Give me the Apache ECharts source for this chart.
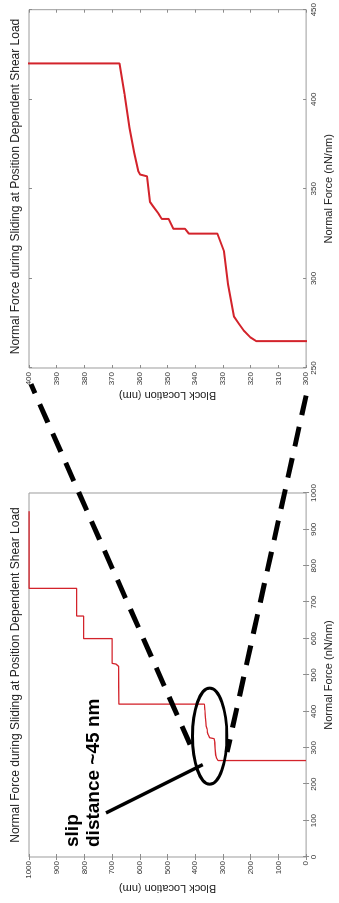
<!DOCTYPE html>
<html>
<head>
<meta charset="utf-8">
<script src="https://cdn.jsdelivr.net/npm/echarts@6/dist/echarts.min.js"></script>
<style>
  html, body { margin: 0; padding: 0; background: #fff; overflow: hidden; width: 339px; height: 903px; }
  /* The figure is laid out landscape and turned a quarter turn for the portrait page */
  #chart { position: absolute; left: 0; top: 0; width: 903px; height: 339px;
           transform-origin: 0 0; transform: translate(0, 903px) rotate(-90deg); }
</style>
</head>
<body>
<div id="chart"></div>
<script>
// Block position along the slide (nm) and the normal force at that position (nN/nm), in order of travel
const blockLocation = [
  1000, 1000, 828, 828, 803, 803, 700, 700, 686, 677, 676,
  367.3, 365.5, 363.7, 362, 360.6, 359.9, 357.4, 357, 356.3, 355.3,
  353.2, 352.1, 349.6, 347.9, 343.7, 342.3, 332, 329.6, 328.2, 326,
  324.3, 322.5, 320.1, 318, 0
];
const normalForce = [
  950, 738, 738, 662, 662, 600, 600, 532, 530, 524, 420,
  420, 403, 384, 370, 360, 358, 357, 351, 342.6, 340.4,
  336, 333.2, 333.2, 327.7, 327.7, 325, 325, 315, 296.8, 278.6,
  274.8, 270.9, 267.1, 265, 265
];

// Axis ranges: [min, max, tick step]
const fullForceRange = [0, 1000, 100];
const fullLocationRange = [0, 1000, 100];
const zoomForceRange = [250, 450, 50];
const zoomLocationRange = [300, 400, 10];

const titleText = 'Normal Force during Sliding at Position Dependent Shear Load';
const forceName = 'Normal Force (nN/nm)';
const locationName = 'Block Location (nm)';
const noteText = 'slip\ndistance ~45 nm';

const FONT = '"Liberation Sans", Arial, Helvetica, sans-serif';
const RED = '#d3232b';
const FRAME = '#9c9c9c';

const pairs = normalForce.map((f, i) => [f, blockLocation[i]]);

function axis(gridIndex, position, range, labelled, name, nameGap) {
  return {
    type: 'value', gridIndex, position,
    min: range[0], max: range[1], interval: range[2],
    axisLine: { show: false },
    splitLine: { show: false },
    axisTick: { show: true, inside: true, length: 3, lineStyle: { color: '#8c8c8c', width: 1 } },
    axisLabel: {
      show: labelled, fontSize: 8, color: '#333', margin: 4, fontFamily: FONT,
      showMinLabel: true, showMaxLabel: true,
      formatter: v => String(v)
    },
    name: labelled ? name : '',
    nameLocation: 'middle',
    nameGap: nameGap,
    nameTextStyle: { fontSize: 11, color: '#222', fontFamily: FONT }
  };
}

const grids = [
  { left: 46, top: 29, width: 364, height: 284 },
  { left: 535, top: 29, width: 363, height: 284 }
].map(g => Object.assign(g, { show: true, borderColor: FRAME, borderWidth: 1, backgroundColor: 'transparent', containLabel: false }));

const chart = echarts.init(document.getElementById('chart'), null, { renderer: 'canvas', width: 903, height: 339 });

chart.setOption({
  animation: false,
  backgroundColor: '#fff',
  title: [228, 716.5].map(x => ({
    text: titleText, left: x, top: 10, textAlign: 'center', padding: 0,
    textStyle: { fontSize: 12, fontWeight: 'normal', color: '#222', fontFamily: FONT }
  })),
  grid: grids,
  xAxis: [
    axis(0, 'bottom', fullForceRange, true, forceName, 12),
    axis(0, 'top', fullForceRange, false),
    axis(1, 'bottom', zoomForceRange, true, forceName, 12),
    axis(1, 'top', zoomForceRange, false)
  ],
  yAxis: [
    axis(0, 'left', fullLocationRange, true, locationName, 22),
    axis(0, 'right', fullLocationRange, false),
    axis(1, 'left', zoomLocationRange, true, locationName, 22),
    axis(1, 'right', zoomLocationRange, false)
  ],
  series: [
    { type: 'line', xAxisIndex: 0, yAxisIndex: 0, data: pairs, showSymbol: false, symbol: 'none',
      clip: true, lineStyle: { color: RED, width: 1.3 } },
    { type: 'line', xAxisIndex: 2, yAxisIndex: 2, data: pairs, showSymbol: false, symbol: 'none',
      clip: true, lineStyle: { color: RED, width: 2 } }
  ]
});

// Callout: ellipse round the slip step in the full view, dashed leaders to the zoomed view, and a note
const inFull = p => chart.convertToPixel({ gridIndex: 0 }, p);
const inZoom = p => chart.convertToPixel({ gridIndex: 1 }, p);

const ellipseCentre = inFull([332, 348]);
const ellipseEdge = inFull([332 + 132, 348 + 62]);
const leaderA = [inZoom([241, 399.3]), inFull([291, 408])];
const leaderB = [inZoom([234.6, 300]), inFull([288.5, 285])];
const pointer = [inFull([121, 722]), inFull([253.8, 373])];
const noteAt = inFull([27.5, 880]);

const dashStyle = { stroke: '#000', lineWidth: 5, lineDash: [20, 12], lineCap: 'butt' };

chart.setOption({
  graphic: [
    { type: 'ellipse', z: 100,
      shape: { cx: ellipseCentre[0], cy: ellipseCentre[1],
               rx: Math.abs(ellipseEdge[0] - ellipseCentre[0]), ry: Math.abs(ellipseEdge[1] - ellipseCentre[1]) },
      style: { fill: 'none', stroke: '#000', lineWidth: 3 } },
    { type: 'line', z: 100,
      shape: { x1: leaderA[0][0], y1: leaderA[0][1], x2: leaderA[1][0], y2: leaderA[1][1] },
      style: Object.assign({}, dashStyle, { lineDashOffset: 10 }) },
    { type: 'line', z: 100,
      shape: { x1: leaderB[0][0], y1: leaderB[0][1], x2: leaderB[1][0], y2: leaderB[1][1] },
      style: Object.assign({}, dashStyle) },
    { type: 'line', z: 100,
      shape: { x1: pointer[0][0], y1: pointer[0][1], x2: pointer[1][0], y2: pointer[1][1] },
      style: { stroke: '#000', lineWidth: 3.5 } },
    { type: 'text', z: 100, x: noteAt[0], y: noteAt[1],
      style: { text: noteText, fill: '#000', font: 'bold 19px ' + FONT, lineHeight: 21,
               align: 'left', verticalAlign: 'top' } }
  ]
});
</script>
</body>
</html>
